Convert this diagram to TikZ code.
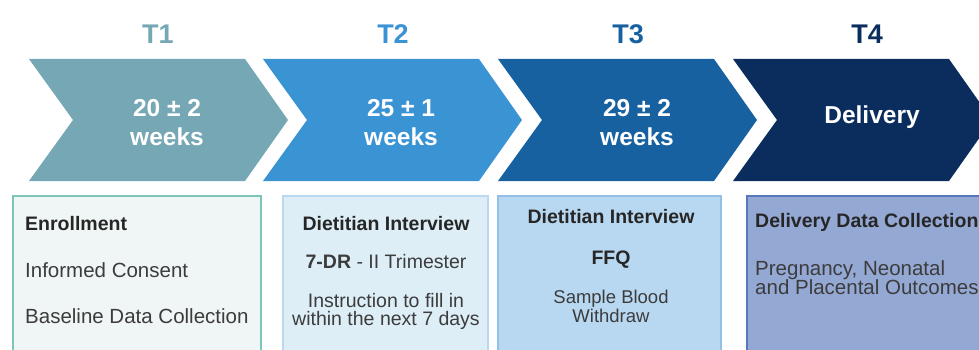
\documentclass[tikz,border=0pt]{standalone}
\usepackage{fontspec}
\setmainfont{Liberation Sans}
\definecolor{cA}{HTML}{76A7B4}
\definecolor{cB}{HTML}{3A93D3}
\definecolor{cC}{HTML}{1761A1}
\definecolor{cD}{HTML}{0A2D5E}
\definecolor{fA}{HTML}{F0F6F5}
\definecolor{dA}{HTML}{7DC5B9}
\definecolor{fB}{HTML}{DDEEF7}
\definecolor{dB}{HTML}{BBD9EE}
\definecolor{fC}{HTML}{B8D8F2}
\definecolor{dC}{HTML}{93BEE6}
\definecolor{fD}{HTML}{94A8D4}
\definecolor{dD}{HTML}{5676BD}
\definecolor{txt}{HTML}{262626}
\begin{document}
\begin{tikzpicture}[x=1pt,y=-1pt,
  title/.style={anchor=base,inner sep=0pt,font=\fontsize{27}{30}\selectfont\bfseries},
  chev/.style={anchor=base,inner sep=0pt,text=white,font=\fontsize{24.5}{28}\selectfont\bfseries},
  hd/.style={anchor=base,inner sep=0pt,text=txt,font=\fontsize{19.5}{22}\selectfont\bfseries},
  bd/.style={anchor=base,inner sep=0pt,text=txt!90,font=\fontsize{19.5}{22}\selectfont},
  bdl/.style={bd,anchor=base west,font=\fontsize{20.5}{22}\selectfont},
  hdl/.style={hd,anchor=base west},
  boxpath/.style={line width=1.5pt}]
\useasboundingbox (0,0) rectangle (979,350);
\clip (0,0) rectangle (979,350);
% chevrons
\foreach \x/\c in {29/cA,263/cB,498/cC,733/cD}{
  \fill[\c] (\x,59) -- (\x+216,59) -- (\x+259,120) -- (\x+216,181) -- (\x,181) -- (\x+44,120) -- cycle;
}
% titles
\node[title,text=cA] (t1) at (158,44) {T1};
\node[title,text=cB] (t2) at (393,44) {T2};
\node[title,text=cC] (t3) at (628,44) {T3};
\node[title,text=cD] (t4) at (867,44) {T4};
% chevron texts
\node[chev] (c1a) at (167,117) {20 ± 2};
\node[chev] (c1b) at (167,145) {weeks};
\node[chev] (c2a) at (401,117) {25 ± 1};
\node[chev] (c2b) at (401,145) {weeks};
\node[chev] (c3a) at (637,117) {29 ± 2};
\node[chev] (c3b) at (637,145) {weeks};
\node[chev] (c4a) at (872,124) {Delivery};
% boxes
\draw[boxpath,draw=dA,fill=fA] (13,196) rectangle (261,362);
\draw[boxpath,draw=dB,fill=fB] (283,196) rectangle (488,362);
\draw[boxpath,draw=dC,fill=fC] (498,196) rectangle (721,362);
\draw[boxpath,draw=dD,fill=fD] (747,196) rectangle (995,362);
% box 1
\node[hdl] (b1a) at (25,230) {Enrollment};
\node[bdl] (b1b) at (25,277) {Informed Consent};
\node[bdl] (b1c) at (25,323) {Baseline Data Collection};
% box 2
\node[hd] (b2a) at (386,230) {Dietitian Interview};
\node[bd] (b2b) at (386,268) {\textbf{7-DR} - II Trimester};
\node[bd] (b2c) at (386,307) {Instruction to fill in};
\node[bd] (b2d) at (386,325) {within the next 7 days};
% box 3
\node[hd] (b3a) at (611,223) {Dietitian Interview};
\node[hd] (b3b) at (611,264) {FFQ};
\node[bd,font=\fontsize{18.5}{21}\selectfont] (b3c) at (611,303) {Sample Blood};
\node[bd,font=\fontsize{18.5}{21}\selectfont] (b3d) at (611,322) {Withdraw};
% box 4
\node[hdl] (b4a) at (755,227) {Delivery Data Collection};
\node[bdl] (b4b) at (755,275) {Pregnancy, Neonatal};
\node[bdl] (b4c) at (755,294) {and Placental Outcomes};
\end{tikzpicture}
\end{document}
